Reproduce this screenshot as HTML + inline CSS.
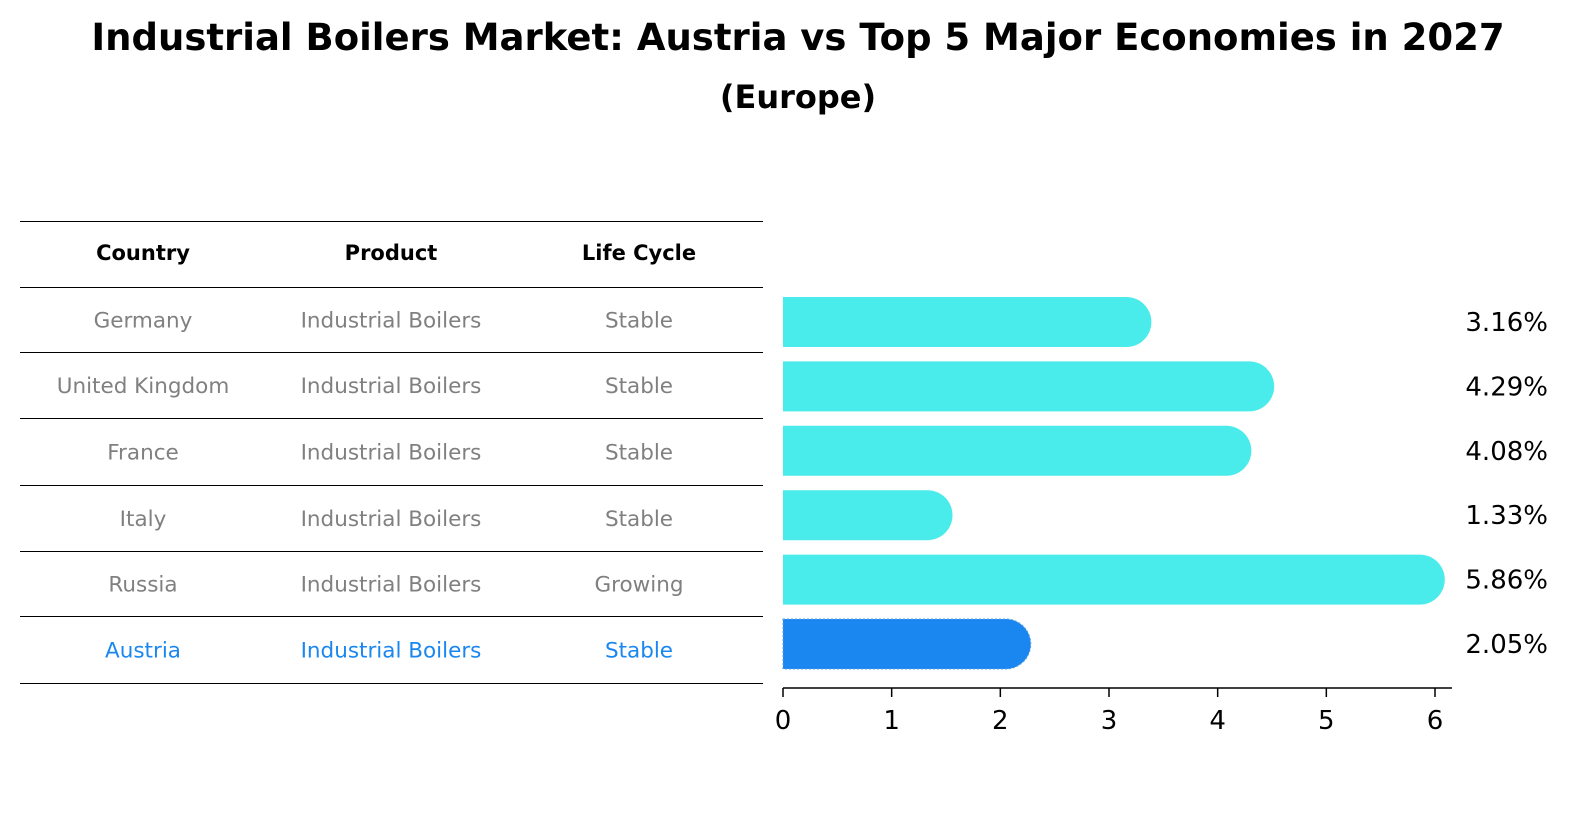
<!DOCTYPE html>
<html><head><meta charset="utf-8"><style>
body{margin:0;background:#fff;font-family:"Liberation Sans","DejaVu Sans",sans-serif;}
</style></head><body>
<svg width="1586" height="823" viewBox="0 0 1586 823" xmlns="http://www.w3.org/2000/svg" font-family="DejaVu Sans, Liberation Sans, sans-serif">
<text x="798" y="50" text-anchor="middle" font-size="37" font-weight="bold">Industrial Boilers Market: Austria vs Top 5 Major Economies in 2027</text>
<text x="798" y="108" text-anchor="middle" font-size="32" font-weight="bold">(Europe)</text>
<g id="table"></g>
<g id="bars"></g>
</svg>
<script>
const countries=["Germany","United Kingdom","France","Italy","Russia","Austria"];
const products=["Industrial Boilers","Industrial Boilers","Industrial Boilers","Industrial Boilers","Industrial Boilers","Industrial Boilers"];
const lifeCycles=["Stable","Stable","Stable","Stable","Growing","Stable"];
const values=[3.16,4.29,4.08,1.33,5.86,2.05];
const valueLabels=["3.16%","4.29%","4.08%","1.33%","5.86%","2.05%"];
const xTicks=[0,1,2,3,4,5,6];
const NS="http://www.w3.org/2000/svg";
function mk(p,t,a){const e=document.createElementNS(NS,t);for(const k in a)e.setAttribute(k,a[k]);p.appendChild(e);return e;}
const tb=document.getElementById('table');
const lineYs=[221,287,352,418,485,551,616,683];
lineYs.forEach(y=>{const l=mk(tb,'line',{x1:20,x2:763,y1:y+0.5,y2:y+0.5,stroke:'#000','stroke-width':1,'shape-rendering':'crispEdges'});

});
const colX=[143,391,639];
["Country","Product","Life Cycle"].forEach((h,i)=>{const t=mk(tb,'text',{x:colX[i],y:260,'text-anchor':'middle','font-size':21,'font-weight':'bold'});t.textContent=h;

});
const rowY=i=>(lineYs[i+1]+lineYs[i+2])/2+8;
countries.forEach((c,i)=>{const col=i===countries.length-1?'#1a87f0':'#808080';
[c,products[i],lifeCycles[i]].forEach((v,j)=>{const t=mk(tb,'text',{x:colX[j],y:rowY(i),'text-anchor':'middle','font-size':21.5,fill:col});t.textContent=v;

});});
const bg=document.getElementById('bars');
const x0=783,ppu=(1435-783)/6;
const xs=v=>x0+v*ppu;
const yc=i=>322+i*64.4;
const h=50,r=25;
values.forEach((v,i)=>{const last=i===values.length-1;const col=last?'#1a87f0':'#4aeceb';
const xe=xs(v),top=yc(i)-h/2;
const p=mk(bg,'path',{d:`M${x0},${top} H${xe} A${r},${r} 0 0 1 ${xe},${top+h} H${x0} Z`,fill:col});
if(last){p.setAttribute('stroke','#5aa0e0');p.setAttribute('stroke-dasharray','2,2');}


const t=mk(bg,'text',{x:1548,y:yc(i)+9,'text-anchor':'end','font-size':26});t.textContent=valueLabels[i];

});
const ax=mk(bg,'line',{x1:x0,x2:1452,y1:688,y2:688,stroke:'#000','stroke-width':1.5});


xTicks.forEach(v=>{const l=mk(bg,'line',{x1:xs(v),x2:xs(v),y1:688,y2:697,stroke:'#000','stroke-width':1.5});


const t=mk(bg,'text',{x:xs(v),y:729,'text-anchor':'middle','font-size':26});t.textContent=v;

});
</script>
</body></html>
